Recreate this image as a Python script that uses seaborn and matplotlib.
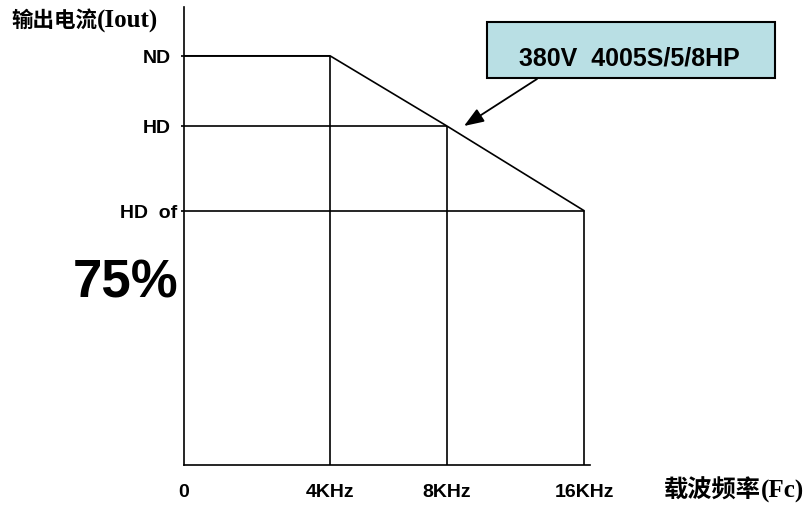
import matplotlib
matplotlib.use("Agg")
import matplotlib.pyplot as plt
import matplotlib.patches as mpatches
import seaborn as sns
import pandas as pd

# chart data (relative current, HD = 1.0)
freq_labels = ["0", "4KHz", "8KHz", "16KHz"]
freq_pos = [0.0, 4.0, 7.2, 10.96]          # horizontal position of each frequency mark
level_names = ["ND", "HD", "HD  of"]
level_values = [1.207, 1.0, 0.75]

# derating curve: ND up to 4KHz, then straight down through HD at 8KHz to 75% at 16KHz
curve_x = [0.0, 4.0, 7.2, 10.96]
curve_y = [1.207, 1.207, 1.0, 0.75]
curve = pd.DataFrame({"x": curve_x, "y": curve_y})

sns.set_style("white")
plt.rcParams["font.family"] = ["Liberation Sans", "Noto Sans CJK SC"]
plt.rcParams["text.color"] = "black"
plt.rcParams["xtick.color"] = "black"
plt.rcParams["ytick.color"] = "black"

W, H = 811, 506
fig = plt.figure(figsize=(W / 100, H / 100), dpi=100)
ax = fig.add_axes([184 / W, 40 / H, 406 / W, 458 / H])

lw = 1.2
sns.lineplot(data=curve, x="x", y="y", color="black", lw=lw, ax=ax)

# guide lines
for xv, yv in zip(curve_x[1:], curve_y[1:]):
    ax.hlines(yv, 0, xv, color="black", lw=lw)
ax.vlines(curve_x[1:], 0, curve_y[1:], color="black", lw=lw)

ax.set_xlim(0, 11.12)
ax.set_ylim(0, 1.351)
sns.despine(ax=ax)
for s in ["left", "bottom"]:
    ax.spines[s].set_color("black")
    ax.spines[s].set_linewidth(lw)

ax.set_xticks(freq_pos)
ax.set_xticklabels(freq_labels, fontsize=14, fontweight="bold")
ax.tick_params(axis="x", length=0, pad=13)
ax.set_yticks(level_values)
ax.set_yticklabels([])
ax.tick_params(axis="y", length=2.5, width=lw, direction="out", left=True)
ax.set_xlabel("")
ax.set_ylabel("")

# level labels left of the axis
offsets = [-9.5, -9.5, -4.5]
for name, val, off in zip(level_names, level_values, offsets):
    ax.annotate(name, xy=(0, val), xycoords=("axes fraction", "data"),
                xytext=(off, -1), textcoords="offset points",
                fontsize=14, fontweight="bold", ha="right", va="center")

fig.text(178 / W, 1 - 284 / H, "75%", fontsize=38, fontweight="bold",
         ha="right", va="center")

# axis titles: Chinese part + Times-like bold part
serif_cjk = ["Liberation Serif", "Noto Sans CJK SC"]
fig.canvas.draw()
r = fig.canvas.get_renderer()
t1 = fig.text(11 / W, 1 - 21 / H, "输出电流", fontsize=15.5, fontweight="bold",
              family=serif_cjk, ha="left", va="center")
x1 = t1.get_window_extent(r).x1
fig.text(x1 / W, 1 - 21 / H, "(Iout)", fontsize=18, fontweight="bold",
         family=serif_cjk, ha="left", va="center")

t2 = fig.text(664 / W, 1 - 491 / H, "载波频率", fontsize=17.5, fontweight="bold",
              family=serif_cjk, ha="left", va="center")
x2 = t2.get_window_extent(r).x1
fig.text(x2 / W, 1 - 491 / H, "(Fc)", fontsize=18, fontweight="bold",
         family=serif_cjk, ha="left", va="center")

# model box with arrow pointing at the HD point at 8KHz
box = mpatches.Rectangle((487 / W, 1 - 79 / H), 288 / W, 56 / H, transform=fig.transFigure,
                         fc="#B9DFE4", ec="black", lw=1.5)
fig.patches.append(box)
fig.text(629 / W, 1 - 59 / H, "380V  4005S/5/8HP", fontsize=18, fontweight="bold",
         ha="center", va="center")
ax.annotate("", xy=(464, H - 127), xycoords="figure pixels",
            xytext=(537, H - 80), textcoords="figure pixels",
            arrowprops=dict(arrowstyle="-|>,head_length=1.2,head_width=0.45",
                            color="black", lw=1.3, shrinkA=0, shrinkB=0))

fig.savefig("out.png", dpi=100)
